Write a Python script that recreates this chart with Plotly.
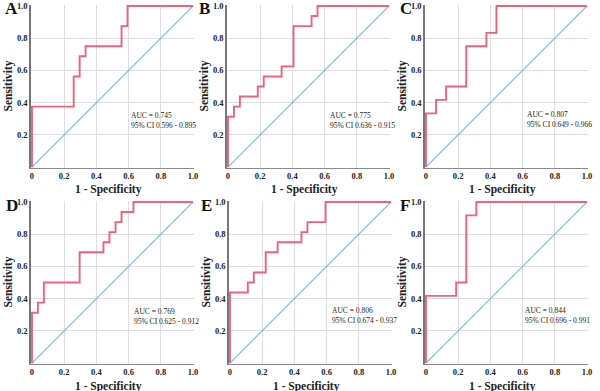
import plotly.graph_objects as go

# ROC curve points (1 - specificity, sensitivity) for each panel
fpr_A = [0, 0, 0.259, 0.259, 0.296, 0.296, 0.333, 0.333, 0.556, 0.556, 0.593, 0.593, 1]
tpr_A = [0, 0.375, 0.375, 0.5625, 0.5625, 0.6875, 0.6875, 0.75, 0.75, 0.875, 0.875, 1, 1]

fpr_B = [0, 0, 0.037, 0.037, 0.074, 0.074, 0.185, 0.185, 0.222, 0.222, 0.333, 0.333,
         0.407, 0.407, 0.519, 0.519, 0.556, 0.556, 1]
tpr_B = [0, 0.3125, 0.3125, 0.375, 0.375, 0.4375, 0.4375, 0.5, 0.5, 0.5625, 0.5625, 0.625,
         0.625, 0.875, 0.875, 0.9375, 0.9375, 1, 1]

fpr_C = [0, 0, 0.0625, 0.0625, 0.125, 0.125, 0.25, 0.25, 0.375, 0.375, 0.4375, 0.4375, 1]
tpr_C = [0, 0.333, 0.333, 0.4167, 0.4167, 0.5, 0.5, 0.75, 0.75, 0.833, 0.833, 1, 1]

fpr_D = [0, 0, 0.037, 0.037, 0.074, 0.074, 0.296, 0.296, 0.444, 0.444, 0.481, 0.481,
         0.519, 0.519, 0.556, 0.556, 0.630, 0.630, 1]
tpr_D = [0, 0.3125, 0.3125, 0.375, 0.375, 0.5, 0.5, 0.6875, 0.6875, 0.75, 0.75, 0.8125,
         0.8125, 0.875, 0.875, 0.9375, 0.9375, 1, 1]

fpr_E = [0, 0, 0.111, 0.111, 0.148, 0.148, 0.222, 0.222, 0.296, 0.296, 0.444, 0.444,
         0.481, 0.481, 0.593, 0.593, 1]
tpr_E = [0, 0.4375, 0.4375, 0.5, 0.5, 0.5625, 0.5625, 0.6875, 0.6875, 0.75, 0.75, 0.8125,
         0.8125, 0.875, 0.875, 1, 1]

fpr_F = [0, 0, 0.1875, 0.1875, 0.25, 0.25, 0.3125, 0.3125, 1]
tpr_F = [0, 0.4167, 0.4167, 0.5, 0.5, 0.9167, 0.9167, 1, 1]

panel_letters = ["A", "B", "C", "D", "E", "F"]
auc_values = ["0.745", "0.775", "0.807", "0.769", "0.806", "0.844"]
ci_values = ["0.596 - 0.895", "0.636 - 0.915", "0.649 - 0.966",
             "0.625 - 0.912", "0.674 - 0.937", "0.696 - 0.991"]
x_tick_vals = [0, 0.2, 0.4, 0.6, 0.8, 1.0]
x_tick_text = ["0", "0.2", "0.4", "0.6", "0.8", "1.0"]
y_tick_vals = [0.2, 0.4, 0.6, 0.8, 1.0]
y_tick_text = ["0.2", "0.4", "0.6", "0.8", "1.0"]
diag_x = [0, 1]
diag_y = [0, 1]

curves = [(fpr_A, tpr_A), (fpr_B, tpr_B), (fpr_C, tpr_C),
          (fpr_D, tpr_D), (fpr_E, tpr_E), (fpr_F, tpr_F)]

W, H = 600, 391
# plot-area pixel boxes (left, right, top, bottom)
boxes = [(31, 194, 5, 168), (227, 390, 5, 168), (425, 588, 5, 168),
         (31, 194, 201, 364), (229, 392, 201, 364), (425, 588, 201, 364)]
letter_pos = [(3, 9), (197, 9), (398, 9), (4, 206), (199, 206), (398, 206)]
auc_pos = [(0.60, 0.30), (0.618, 0.306), (0.613, 0.313),
           (0.624, 0.307), (0.62, 0.313), (0.60, 0.313)]

RED = "#f0627a"
BLUE = "#79b4ea"
FONT = "Liberation Serif"

fig = go.Figure()
annotations = []
layout = {}
for i, ((fx, ty), (l, r, t, b)) in enumerate(zip(curves, boxes)):
    n = "" if i == 0 else str(i + 1)
    xa, ya = "x" + n, "y" + n
    fig.add_trace(go.Scatter(x=diag_x, y=diag_y, mode="lines", xaxis=xa, yaxis=ya,
                             line=dict(color=BLUE, width=1.1), showlegend=False,
                             hoverinfo="skip"))
    fig.add_trace(go.Scatter(x=fx, y=ty, mode="lines", xaxis=xa, yaxis=ya,
                             line=dict(color=RED, width=1.9), showlegend=False))
    layout["xaxis" + n] = dict(
        domain=[l / W, r / W], anchor=ya, range=[-0.006, 1.006],
        tickvals=x_tick_vals, ticktext=x_tick_text, showgrid=True, gridcolor="#dedede",
        gridwidth=1, zeroline=False, showline=True, linecolor="#8a8a8a", linewidth=1,
        ticks="", tickfont=dict(family=FONT, size=8.5, color="#222", weight="bold"),
        fixedrange=True, automargin=False)
    layout["yaxis" + n] = dict(
        domain=[1 - b / H, 1 - t / H], anchor=xa, range=[-0.006, 1.006],
        tickvals=y_tick_vals, ticktext=y_tick_text, showgrid=True, gridcolor="#dedede",
        gridwidth=1, zeroline=False, showline=True, linecolor="#777777", linewidth=1.5,
        ticks="", tickfont=dict(family=FONT, size=8.5, color="#222", weight="bold"),
        fixedrange=True, automargin=False)
    lx, ly = letter_pos[i]
    annotations.append(dict(text="<b>" + panel_letters[i] + "</b>", x=lx / W, y=1 - ly / H,
                            xref="paper", yref="paper", xanchor="left", yanchor="middle",
                            showarrow=False, font=dict(family=FONT, size=17, color="#111")))
    annotations.append(dict(text="<b>Sensitivity</b>", x=(l - 23) / W, y=1 - ((t + b) / 2) / H,
                            xref="paper", yref="paper", textangle=-90, showarrow=False,
                            xanchor="center", yanchor="middle",
                            font=dict(family=FONT, size=11.5, color="#222")))
    annotations.append(dict(text="<b>1 - Specificity</b>", x=((l + r) / 2 - 4) / W,
                            y=1 - (b + 22) / H, xref="paper", yref="paper", showarrow=False,
                            xanchor="center", yanchor="middle",
                            font=dict(family=FONT, size=11.5, color="#222")))
    ax, ay = auc_pos[i]
    annotations.append(dict(text="AUC = " + auc_values[i] + "<br>95% CI " + ci_values[i],
                            x=ax, y=(ay + 0.275) / 2, xref=xa, yref=ya,
                            xanchor="left", yanchor="middle", align="left", showarrow=False,
                            font=dict(family=FONT, size=7.5, color="#222")))

fig.update_layout(width=W, height=H, margin=dict(l=0, r=0, t=0, b=0),
                  paper_bgcolor="white", plot_bgcolor="white",
                  annotations=annotations, **layout)
fig.write_html("out.html", config={"displayModeBar": False},
               post_script="document.body.style.margin='0';document.body.style.padding='0';")
